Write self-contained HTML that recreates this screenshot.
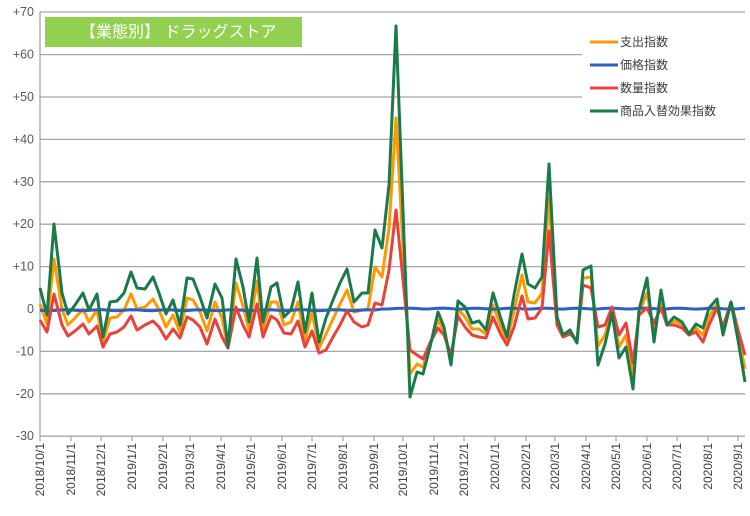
<!DOCTYPE html>
<html><head><meta charset="utf-8"><style>
body{margin:0;background:#fff;}
svg{display:block;font-family:"Liberation Sans","Noto Sans CJK JP",sans-serif;}
</style></head><body>
<svg id="s" width="750" height="516" xmlns="http://www.w3.org/2000/svg">
<rect width="750" height="516" fill="#fff"/>
<g id="grid" stroke="#a6a6a6" stroke-width="1.3"></g>
<g id="ylab" font-size="12.5" fill="#595959" text-anchor="end"></g>
<line x1="40" y1="12" x2="40" y2="436" stroke="#a6a6a6" stroke-width="1.3"/>
<g id="xt" stroke="#a6a6a6" stroke-width="1.3"></g>
<g id="xlab" font-size="12" fill="#404040"></g>
<rect x="45" y="17" width="257" height="30" fill="#92d050"/>
<text x="80" y="37" font-size="16" fill="#fff">【業態別】 ドラッグストア</text>
<rect x="582" y="30" width="172" height="92" fill="#fff"/>
<g stroke-width="3">
<line x1="590" y1="42" x2="618" y2="42" stroke="#ff9900"/>
<line x1="590" y1="65" x2="618" y2="65" stroke="#2e5fc4"/>
<line x1="590" y1="88" x2="618" y2="88" stroke="#e8433a"/>
<line x1="590" y1="111" x2="618" y2="111" stroke="#1b7a4a"/>
</g>
<g font-size="12" fill="#404040">
<text x="620" y="46">支出指数</text>
<text x="620" y="69">価格指数</text>
<text x="620" y="92">数量指数</text>
<text x="620" y="115">商品入替効果指数</text>
</g>
<g id="lines" fill="none" stroke-width="3" stroke-linejoin="round"></g>
</svg>
<script>
var NS="http://www.w3.org/2000/svg";
function el(p,t,a,txt){var e=document.createElementNS(NS,t);for(var k in a)e.setAttribute(k,a[k]);if(txt)e.textContent=txt;document.getElementById(p).appendChild(e);}
for(var v=70;v>=-30;v-=10){var y=309-v*4.24;
 if(v!=70) el("grid","line",{x1:40,y1:y,x2:745,y2:y});
 el("ylab","text",{x:34,y:y+4},(v>0?"+":"")+v);}
el("grid","line",{x1:40,y1:12,x2:745,y2:12});
var ticks=[40,71,101,132,163,190,221,251,282,312,343,374,403,434,464,495,526,555,586,616,647,677,708,738];
var labs=["2018/10/1","2018/11/1","2018/12/1","2019/1/1","2019/2/1","2019/3/1","2019/4/1","2019/5/1","2019/6/1","2019/7/1","2019/8/1","2019/9/1","2019/10/1","2019/11/1","2019/12/1","2020/1/1","2020/2/1","2020/3/1","2020/4/1","2020/5/1","2020/6/1","2020/7/1","2020/8/1","2020/9/1"];
ticks.forEach(function(x,i){el("xt","line",{x1:x,y1:436,x2:x,y2:441});
 el("xlab","text",{x:0,y:0,"text-anchor":"end",transform:"translate("+(x+4)+",443) rotate(-90)"},labs[i]);});
var X=[40,47,54,62,68,75,83,89,97,103,110,117,124,131,137,145,153,159,166,173,180,187,193,200,207,215,222,228,236,243,249,257,263,271,277,284,291,298,305,312,319,326,333,340,347,354,362,368,375,382,389,396,410,417,423,430,438,444,451,458,465,472,479,486,493,501,507,514,522,528,535,542,549,557,563,570,577,583,591,598,605,612,619,626,633,639,647,654,661,667,674,682,689,696,703,709,717,723,731,738,745];
var G=[288,315,224,293,314,305,293,310,294,337,302,301,293,272,288,289,277,293,314,300,325,278,279,297,318,284,298,347,259,287,322,258,322,287,283,317,310,282,332,293,342,318,300,283,269,302,293,293,230,248,185,26,397,372,374,347,312,327,365,301,307,323,321,330,293,319,337,295,254,284,288,277,164,317,335,330,343,270,266,365,344,313,358,347,389,310,278,342,290,325,317,322,334,324,328,308,299,335,302,340,382];
var R=[320,332,294,325,336,331,324,334,326,347,334,332,327,316,330,325,321,327,339,329,338,317,320,327,344,319,337,348,307,325,337,304,337,316,320,333,334,321,347,331,353,350,337,325,311,322,327,325,303,305,270,210,350,355,359,343,328,335,355,316,327,335,337,338,317,335,345,327,296,319,318,308,231,325,337,334,340,285,288,327,325,307,335,323,363,315,308,323,308,325,325,328,335,332,342,325,308,327,302,330,355];
function pts(Y){return X.map(function(x,i){return x+","+Y[i];}).join(" ");}
var O=G.map(function(g,i){return Math.round((g+R[i])/2);});
var B=X.map(function(x,i){var b=x<380?310.2:308.6;return (b+Math.sin(i*1.3)*0.5).toFixed(1);});
el("lines","polyline",{points:pts(O),stroke:"#ff9900"});
el("lines","polyline",{points:pts(B),stroke:"#2e5fc4"});
el("lines","polyline",{points:pts(R),stroke:"#e8433a"});
el("lines","polyline",{points:pts(G),stroke:"#1b7a4a"});
</script>
</body></html>
